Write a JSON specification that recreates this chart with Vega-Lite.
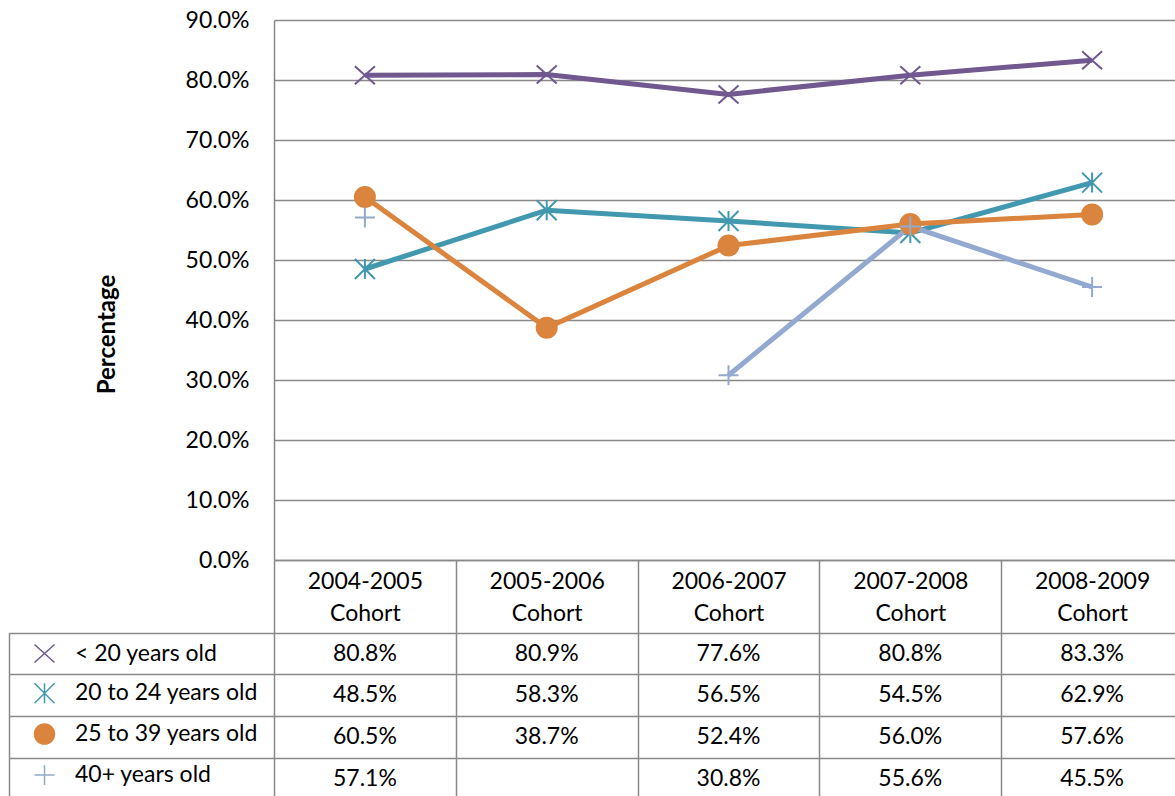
{
  "$schema": "https://vega.github.io/schema/vega-lite/v6.json",
  "width": 909,
  "height": 780,
  "autosize": {"type": "none"},
  "padding": {"left": 274, "top": 20, "right": 0, "bottom": 0},
  "background": "white",
  "config": {
    "font": "Lato",
    "view": {"stroke": null},
    "axis": {
      "labelFont": "Lato",
      "labelFontSize": 23,
      "labelColor": "#000000",
      "domainColor": "#898989",
      "domainWidth": 1.5,
      "tickColor": "#898989",
      "tickWidth": 1.5,
      "gridColor": "#898989",
      "gridWidth": 1.5,
      "gridOpacity": 1
    },
    "legend": {
      "labelFont": "Lato",
      "labelFontSize": 23,
      "labelColor": "#000000"
    }
  },
  "data": {
    "values": [
      {"series": "< 20 years old", "cohort": "2004-2005 Cohort", "value": 0.808},
      {"series": "< 20 years old", "cohort": "2005-2006 Cohort", "value": 0.809},
      {"series": "< 20 years old", "cohort": "2006-2007 Cohort", "value": 0.776},
      {"series": "< 20 years old", "cohort": "2007-2008 Cohort", "value": 0.808},
      {"series": "< 20 years old", "cohort": "2008-2009 Cohort", "value": 0.833},
      {"series": "20 to 24 years old", "cohort": "2004-2005 Cohort", "value": 0.485},
      {"series": "20 to 24 years old", "cohort": "2005-2006 Cohort", "value": 0.583},
      {"series": "20 to 24 years old", "cohort": "2006-2007 Cohort", "value": 0.565},
      {"series": "20 to 24 years old", "cohort": "2007-2008 Cohort", "value": 0.545},
      {"series": "20 to 24 years old", "cohort": "2008-2009 Cohort", "value": 0.629},
      {"series": "25 to 39 years old", "cohort": "2004-2005 Cohort", "value": 0.605},
      {"series": "25 to 39 years old", "cohort": "2005-2006 Cohort", "value": 0.387},
      {"series": "25 to 39 years old", "cohort": "2006-2007 Cohort", "value": 0.524},
      {"series": "25 to 39 years old", "cohort": "2007-2008 Cohort", "value": 0.560},
      {"series": "25 to 39 years old", "cohort": "2008-2009 Cohort", "value": 0.576},
      {"series": "40+ years old", "cohort": "2004-2005 Cohort", "value": 0.571},
      {"series": "40+ years old", "cohort": "2005-2006 Cohort", "value": null},
      {"series": "40+ years old", "cohort": "2006-2007 Cohort", "value": 0.308},
      {"series": "40+ years old", "cohort": "2007-2008 Cohort", "value": 0.556},
      {"series": "40+ years old", "cohort": "2008-2009 Cohort", "value": 0.455}
    ]
  },
  "layer": [
    {
      "layer": [
        {
          "mark": {"type": "line", "strokeWidth": 5, "invalid": "break-paths-filter-domains"},
          "encoding": {
            "x": {
              "field": "cohort",
              "type": "nominal",
              "scale": {
                "type": "band",
                "domain": ["2004-2005 Cohort", "2005-2006 Cohort", "2006-2007 Cohort", "2007-2008 Cohort", "2008-2009 Cohort"],
                "paddingInner": 0,
                "paddingOuter": 0
              },
              "axis": {
                "orient": "bottom",
                "offset": -240,
                "title": null,
                "domain": true,
                "ticks": true,
                "tickBand": "extent",
                "tickSize": 239.4,
                "grid": false,
                "labelAngle": 0,
                "labelAlign": "center",
                "labelBaseline": "top",
                "labelPadding": -229.4,
                "labelLineHeight": 32,
                "labelOverlap": false,
                "labelBound": false,
                "labelFlush": false,
                "labelLimit": 0,
                "labelExpr": "split(datum.label, ' ')"
              }
            },
            "y": {
              "field": "value",
              "type": "quantitative",
              "scale": {"domain": [0, 0.9], "range": [540, 0], "nice": false, "zero": false},
              "axis": {
                "orient": "left",
                "values": [0, 0.1, 0.2, 0.3, 0.4, 0.5, 0.6, 0.7, 0.8, 0.9],
                "format": ".1%",
                "ticks": false,
                "grid": true,
                "domain": true,
                "labelPadding": 25,
                "title": "Percentage",
                "titleFont": "Lato",
                "titleFontSize": 24,
                "titleFontWeight": "bold",
                "titleColor": "#000000",
                "titleAngle": 270,
                "titleAlign": "center",
                "titleBaseline": "middle",
                "titleX": -167,
                "titleY": 314
              }
            },
            "color": {
              "field": "series",
              "type": "nominal",
              "scale": {
                "domain": ["< 20 years old", "20 to 24 years old", "25 to 39 years old", "40+ years old"],
                "range": ["#71588F", "#4198AF", "#DB843D", "#93A9CF"]
              },
              "legend": {
                "title": null,
                "orient": "none",
                "direction": "vertical",
                "legendX": -265,
                "legendY": 622,
                "padding": 0,
                "offset": 0,
                "symbolSize": 400,
                "symbolOffset": 24,
                "labelOffset": 19,
                "rowPadding": 13.8,
                "labelLimit": 0
              }
            }
          }
        },
        {
          "mark": {"type": "point", "size": 400, "strokeWidth": 2, "filled": false, "opacity": 1},
          "encoding": {
            "x": {"field": "cohort", "type": "nominal"},
            "y": {"field": "value", "type": "quantitative"},
            "color": {"field": "series", "type": "nominal"},
            "shape": {
              "field": "series",
              "type": "nominal",
              "scale": {
                "domain": ["< 20 years old", "20 to 24 years old", "25 to 39 years old", "40+ years old"],
                "range": ["M-1,-0.9L1,0.9M1,-0.9L-1,0.9", "M-1,-1L1,1M1,-1L-1,1M0,-1L0,1", "circle", "M-1,0H1M0,-1V1"]
              },
              "legend": null
            },
            "fill": {
              "field": "series",
              "type": "nominal",
              "scale": {
                "domain": ["< 20 years old", "20 to 24 years old", "25 to 39 years old", "40+ years old"],
                "range": ["transparent", "transparent", "#DB843D", "transparent"]
              },
              "legend": null
            }
          }
        }
      ]
    },
    {
      "transform": [{"filter": "isValid(datum.value)"}],
      "mark": {"type": "text", "fontSize": 23, "color": "#000000", "align": "center", "baseline": "middle"},
      "encoding": {
        "x": {"field": "cohort", "type": "nominal"},
        "y": {
          "field": "series",
          "type": "nominal",
          "scale": {
            "type": "band",
            "domain": ["< 20 years old", "20 to 24 years old", "25 to 39 years old", "40+ years old"],
            "range": [612.7, 779.4],
            "paddingInner": 0,
            "paddingOuter": 0
          },
          "axis": {
            "orient": "left",
            "offset": 265,
            "title": null,
            "labels": false,
            "domain": true,
            "ticks": true,
            "tickBand": "extent",
            "tickSize": -265,
            "grid": true
          }
        },
        "text": {"field": "value", "type": "quantitative", "format": ".1%"}
      }
    }
  ],
  "resolve": {"scale": {"y": "independent"}, "axis": {"y": "independent"}}
}
